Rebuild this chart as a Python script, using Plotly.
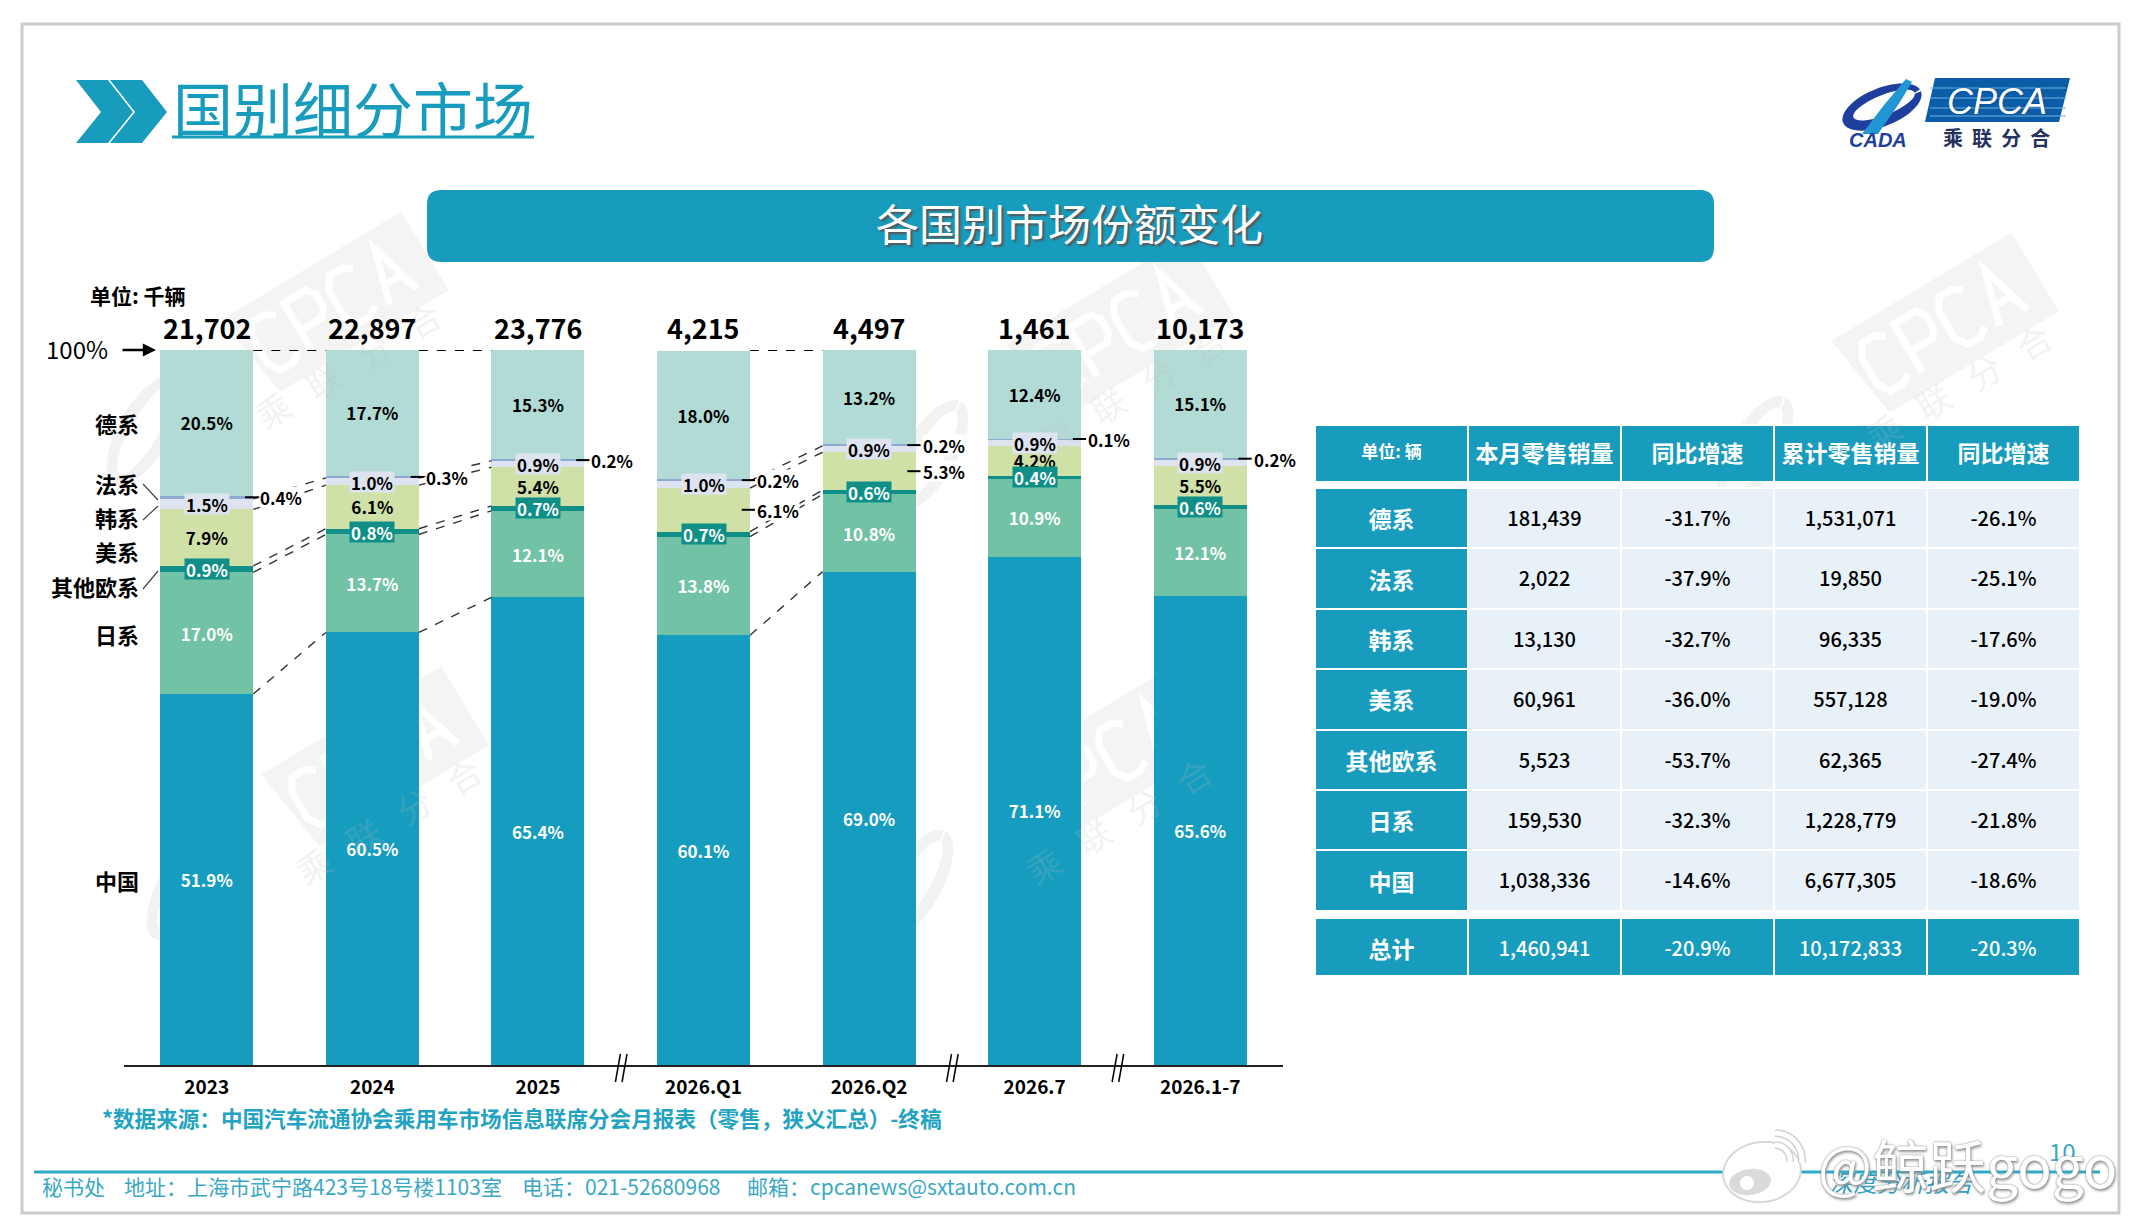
import math
import plotly.graph_objects as go

W, H = 2133, 1224
FONT = "Noto Sans CJK SC"
TEAL = "#189CBE"

# share of the market, percent
periods = ["2023", "2024", "2025", "2026.Q1", "2026.Q2", "2026.7", "2026.1-7"]
totals = ["21,702", "22,897", "23,776", "4,215", "4,497", "1,461", "10,173"]
china = [51.9, 60.5, 65.4, 60.1, 69.0, 71.1, 65.6]
japan = [17.0, 13.7, 12.1, 13.8, 10.8, 10.9, 12.1]
other_eu = [0.9, 0.8, 0.7, 0.7, 0.6, 0.4, 0.6]
usa = [7.9, 6.1, 5.4, 6.1, 5.3, 4.2, 5.5]
korea = [1.5, 1.0, 0.9, 1.0, 0.9, 0.9, 0.9]
france = [0.4, 0.3, 0.2, 0.2, 0.2, 0.1, 0.2]
germany = [20.5, 17.7, 15.3, 18.0, 13.2, 12.4, 15.1]

# table
table_header = ["单位: 辆", "本月零售销量", "同比增速", "累计零售销量", "同比增速"]
table_names = ["德系", "法系", "韩系", "美系", "其他欧系", "日系", "中国"]
month_sales = ["181,439", "2,022", "13,130", "60,961", "5,523", "159,530", "1,038,336"]
month_yoy = ["-31.7%", "-37.9%", "-32.7%", "-36.0%", "-53.7%", "-32.3%", "-14.6%"]
ytd_sales = ["1,531,071", "19,850", "96,335", "557,128", "62,365", "1,228,779", "6,677,305"]
ytd_yoy = ["-26.1%", "-25.1%", "-17.6%", "-19.0%", "-27.4%", "-21.8%", "-18.6%"]
table_total = ["总计", "1,460,941", "-20.9%", "10,172,833", "-20.3%"]

BAR_W = 0.562
series = [
    ("中国", china, "#169CBE", "white"),
    ("日系", japan, "#72C2A5", "white"),
    ("其他欧系", other_eu, "#0F8F87", "white"),
    ("美系", usa, "#CFE1A6", "black"),
    ("韩系", korea, "#DDE4EF", "black"),
    ("法系", france, "#8EA9D2", "black"),
    ("德系", germany, "#B1DBD4", "black"),
]


def px(x):
    return x / W


def py(y):
    return 1 - y / H


def pct(v):
    return f"{v:.1f}%"


def poly(points):
    s = "M" + " L".join(f"{px(x):.5f},{py(y):.5f}" for x, y in points)
    return s + " Z"


def line_path(points):
    return "M" + " L".join(f"{px(x):.5f},{py(y):.5f}" for x, y in points)


def ellipse(cx, cy, rx, ry, rot=0, reverse=False, start=0, end=360):
    a = math.radians(rot)
    pts = []
    for d in range(start, end, 6):
        t = math.radians(-d if reverse else d)
        ex, ey = rx * math.cos(t), ry * math.sin(t)
        pts.append((cx + ex * math.cos(a) - ey * math.sin(a), cy + ex * math.sin(a) + ey * math.cos(a)))
    return pts


fig = go.Figure()
shapes = []
notes = []


def shape_paper(path, fill=None, color=None, width=0, layer="above"):
    shapes.append(dict(type="path", xref="paper", yref="paper", path=path, fillcolor=fill,
                       line=dict(color=color, width=width), layer=layer))


def note(x, y, text, size=18, color="black", weight=400, anchor="center", **kw):
    style = kw.pop("style", "normal")
    shadow = kw.pop("shadow", "none")
    family = kw.pop("family", FONT)
    kw.setdefault("xref", "paper")
    kw.setdefault("yref", "paper")
    kw.setdefault("yanchor", "middle")
    notes.append(dict(x=x, y=y, text=text, showarrow=False, xanchor=anchor,
                      font=dict(family=family, size=size, color=color, weight=weight, style=style, shadow=shadow),
                      **kw))


def note_px(x, y, text, **kw):
    note(px(x), py(y), text, **kw)


# watermarks, they sit under the bars
STROKES = {
    "C": [(1, 0.15), (0.7, 0), (0.25, 0), (0, 0.3), (0, 1.0), (0.25, 1.3), (0.7, 1.3), (1, 1.15)],
    "P": [(0, 1.3), (0, 0), (0.8, 0), (1, 0.2), (1, 0.55), (0.8, 0.75), (0, 0.75)],
    "A": [(0, 1.3), (0.5, 0), (1, 1.3), (0.75, 0.85), (0.25, 0.85)],
}


def watermark(cx, cy):
    a = math.radians(-31)

    def rot(x, y):
        return (cx + x * math.cos(a) - y * math.sin(a), cy + x * math.sin(a) + y * math.cos(a))

    band = [rot(-105, -46), rot(105, -46), rot(105, 46), rot(-92, 46)]
    shape_paper(poly(band), fill="#F4F4F4", layer="below")
    for k, letter in enumerate("CPCA"):
        pts = [rot(-88 + k * 45 + x * 32, -28 + y * 43) for x, y in STROKES[letter]]
        shape_paper(line_path(pts), color="white", width=7, layer="below")
    ring = ellipse(cx - 190, cy + 125, 62, 26, -60) + ellipse(cx - 190, cy + 125, 50, 14, -60, reverse=True)
    shape_paper(poly(ring), fill="#F2F2F2", layer="below")
    for dx, dy, ch in [(-62, 105, "乘"), (-12, 75, "联"), (38, 45, "分"), (88, 15, "合")]:
        note_px(cx + dx, cy + dy, ch, size=34, color="rgba(190,190,190,0.2)", textangle=-31)


for c in [(335, 305), (1120, 330), (1945, 326), (375, 760), (1105, 760)]:
    watermark(*c)

# stacked bars
for name, vals, color, txt in series:
    labels = [pct(v) for v in vals]
    if name in ("其他欧系", "韩系", "法系"):
        labels = None
    if name == "美系":
        labels = [pct(v) if i not in (3, 4) else "" for i, v in enumerate(vals)]
    fig.add_trace(go.Bar(
        x=periods, y=vals, name=name, marker=dict(color=color, line=dict(width=0)),
        text=labels, textposition="inside" if labels else "none", insidetextanchor="middle",
        textangle=0, constraintext="none",
        textfont=dict(family=FONT, size=17, color=txt, weight=700),
    ))

# cumulative tops of each stack
tops = []
running = [0.0] * len(periods)
for name, vals, color, txt in series:
    running = [r + v for r, v in zip(running, vals)]
    tops.append(list(running))
cn_top, jp_top, oe_top, us_top, kr_top, fr_top, _ = tops

# dashed connectors between neighbouring bars
for i in [0, 1, 3]:
    x0, x1 = i + BAR_W / 2, i + 1 - BAR_W / 2
    shapes.append(dict(type="line", xref="x", yref="y", x0=x0, x1=x1, y0=100, y1=100,
                       line=dict(color="black", width=2, dash="dash")))
    for top in (cn_top, jp_top, oe_top, us_top, kr_top):
        shapes.append(dict(type="line", xref="x", yref="y", x0=x0, x1=x1, y0=top[i], y1=top[i + 1],
                           line=dict(color="#333333", width=1.4, dash="dash")))

# labels on thin segments and beside the bars
side = [(i, (kr_top[i] + fr_top[i]) / 2, france[i]) for i in range(len(periods))]
side += [(i, (oe_top[i] + us_top[i]) / 2, usa[i]) for i in (3, 4)]
for i, y, v in side:
    edge = i + BAR_W / 2
    shapes.append(dict(type="line", xref="x", yref="y", x0=edge - 0.05, x1=edge + 0.03, y0=y, y1=y,
                       line=dict(color="black", width=2)))
    note(edge + 0.03, y, pct(v), size=17, weight=700, anchor="left", xref="x", yref="y",
         bgcolor="white", borderpad=0, xshift=1, height=20)
for i in range(len(periods)):
    note(i, (oe_top[i] + jp_top[i]) / 2, pct(other_eu[i]), size=17, color="white", weight=700,
         xref="x", yref="y", bgcolor="#0F8F87", borderpad=1, height=18)
    note(i, (us_top[i] + kr_top[i]) / 2, pct(korea[i]), size=17, weight=700,
         xref="x", yref="y", bgcolor="#DDE4EF", borderpad=1, height=18)
    note(i, 100, totals[i], size=27, weight=700, xref="x", yref="y", yanchor="bottom", yshift=1)

# axis breaks
for x in (2.5, 4.5, 5.5):
    for off in (-0.02, 0.02):
        shapes.append(dict(type="line", xref="x", yref="paper", x0=x + off - 0.012, x1=x + off + 0.018,
                           y0=py(1082), y1=py(1054), line=dict(color="black", width=1.5)))

# row names on the left
names_left = [("德系", 423), ("法系", 483), ("韩系", 517), ("美系", 551), ("其他欧系", 586), ("日系", 634), ("中国", 880)]
for name, y in names_left:
    note_px(141, y, name, size=22, weight=700, anchor="right")
for a, b in [((143, 484), (158, 500)), ((143, 520), (158, 506)), ((143, 589), (158, 571))]:
    shape_paper(line_path([a, b]), color="#444444", width=1.2)

note_px(88, 295, "单位: 千辆", size=21, weight=700, anchor="left")
note_px(44, 348, "100%", size=24, anchor="left")
notes.append(dict(x=px(156), y=py(350), xref="paper", yref="paper", ax=-35, ay=0, text="", showarrow=True,
                  arrowhead=2, arrowsize=1.1, arrowwidth=2.4, arrowcolor="black"))

# heading
for dx in (0, 34):
    shape_paper(poly([(76 + dx, 80), (108 + dx, 80), (133 + dx, 112), (108 + dx, 143), (76 + dx, 143), (101 + dx, 112)]),
                fill=TEAL)
note_px(171, 106, "国别细分市场", size=60, color=TEAL, anchor="left")
shape_paper(line_path([(172, 137), (534, 137)]), color=TEAL, width=3)

# banner
bx0, bx1, by0, by1, r = 427, 1714, 190, 262, 14
shapes.append(dict(type="path", xref="paper", yref="paper", fillcolor=TEAL, line=dict(width=0), path=(
    f"M{px(bx0 + r)},{py(by0)} L{px(bx1 - r)},{py(by0)} Q{px(bx1)},{py(by0)} {px(bx1)},{py(by0 + r)} "
    f"L{px(bx1)},{py(by1 - r)} Q{px(bx1)},{py(by1)} {px(bx1 - r)},{py(by1)} L{px(bx0 + r)},{py(by1)} "
    f"Q{px(bx0)},{py(by1)} {px(bx0)},{py(by1 - r)} L{px(bx0)},{py(by0 + r)} Q{px(bx0)},{py(by0)} {px(bx0 + r)},{py(by0)} Z")))
note_px(1069, 222, "各国别市场份额变化", size=43, color="white", shadow="2px 2px 2px #555555")

# logo top right
shape_paper(poly([(1935, 78), (2070, 78), (2059, 122), (1925, 122)]), fill="#0B5DA8")
for y in (88, 98, 108, 116):
    shape_paper(line_path([(1930, y), (2066, y)]), color="#6FB4E3", width=1)
note_px(1997, 101, "CPCA", size=36, color="white", weight=500, style="italic", shadow="0 0 2px #0A3C8C",
        family="Liberation Sans")
note_px(1996, 137, "乘  联  分  合", size=20, color="#24325E", weight=700)
ring = ellipse(1882, 107, 42, 19, -22) + ellipse(1884, 105, 33, 10, -22, reverse=True)
shape_paper(poly(ring), fill="#1F3F9E")
shape_paper(poly([(1906, 79), (1912, 82), (1900, 102), (1878, 134), (1862, 134), (1884, 105)]), fill="#2196D3")
note_px(1878, 140, "CADA", size=20, color="#1F3F9E", weight=700, style="italic", family="Liberation Sans")

# source and footer
note_px(100, 1117, "*数据来源：中国汽车流通协会乘用车市场信息联席分会月报表（零售，狭义汇总）-终稿", size=21.6,
        color="#22A3C2", weight=700, anchor="left")
shape_paper(line_path([(34, 1172), (2100, 1172)]), color="#2EA9C6", width=3)
for x, t in [(40, "秘书处"), (122, "地址：上海市武宁路423号18号楼1103室"), (520, "电话：021-52680968"),
             (745, "邮箱：cpcanews@sxtauto.com.cn")]:
    note_px(x, 1186, t, size=21, color="#3AA8C4", anchor="left")
note_px(1902, 1181, "深度分析报告", size=24, color="#2E9FBE", style="italic")
note_px(2062, 1150, "10", size=24, color="#3AA8C4")

# weibo mark over the footer
shape_paper(poly(ellipse(1762, 1172, 39, 30, -8)), fill="white", color="#D8D8D8", width=2)
shape_paper(poly(ellipse(1750, 1182, 21, 13, -8)), fill="#DADADA")
shape_paper(poly(ellipse(1747, 1183, 7, 7)), fill="white")
for rr in (15, 27):
    pts = ellipse(1775, 1160, rr, rr, 0, start=270, end=372)
    shape_paper(line_path(pts), color="#D0D0D0", width=8)
    shape_paper(line_path(pts), color="white", width=5)
note_px(1968, 1163, "@鲸跃gogo", size=57, color="white", shadow="0 0 2px #777777, 1px 2px 3px #999999",
        family="Noto Sans CJK SC")

# outer frame
shapes.append(dict(type="rect", xref="paper", yref="paper", x0=px(22), x1=px(2119), y0=py(1213), y1=py(24),
                   line=dict(color="#CCCCCC", width=3), fillcolor="rgba(0,0,0,0)", layer="below"))

# table: fills in one layer and text in a clear layer on top, a table can't centre text in a tall row
# an empty header still takes about 16px, hence the domains start that much higher
t_x = [px(1315), px(2081)]
CLEAR = "rgba(0,0,0,0)"
body_fill = [TEAL, "#E8F0F8", "#E8F0F8", "#E8F0F8", "#E8F0F8"]
no_header = dict(height=1, fill_color=CLEAR, line=dict(color=CLEAR, width=0))
body_cols = [table_names, month_sales, month_yoy, ytd_sales, ytd_yoy]
total_cols = [[v] for v in table_total]
num_font = dict(family=FONT, size=[23, 20, 20, 20, 20], weight=[700, 500, 500, 500, 500],
                color=["white", "black", "black", "black", "black"])
total_font = dict(family=FONT, size=[23, 20, 20, 20, 20], weight=[700, 500, 500, 500, 500], color="white")

fig.add_trace(go.Table(
    domain=dict(x=t_x, y=[py(482), py(425)]),
    header=dict(values=[""] * 5, height=57, fill_color=TEAL, line=dict(color="white", width=2)),
))
fig.add_trace(go.Table(
    domain=dict(x=t_x, y=[py(494), py(437)]),
    header=dict(values=table_header, height=57, fill_color=CLEAR, align="center",
                line=dict(color=CLEAR, width=0),
                font=dict(family=FONT, size=[17, 23, 23, 23, 23], color="white", weight=700)),
))
fig.add_trace(go.Table(
    domain=dict(x=t_x, y=[py(913), py(472)]), header=no_header,
    cells=dict(values=[[""] * 7] * 5, height=60.4, fill_color=body_fill, line=dict(color="white", width=2)),
))
fig.add_trace(go.Table(
    domain=dict(x=t_x, y=[py(930), py(487)]), header=no_header,
    cells=dict(values=body_cols, height=60.4, align="center", fill_color=CLEAR, line=dict(color=CLEAR, width=0),
               font=num_font),
))
fig.add_trace(go.Table(
    domain=dict(x=t_x, y=[py(977), py(902)]), header=no_header,
    cells=dict(values=[[""]] * 5, height=58, fill_color=TEAL, line=dict(color="white", width=2)),
))
fig.add_trace(go.Table(
    domain=dict(x=t_x, y=[py(992), py(917)]), header=no_header,
    cells=dict(values=total_cols, height=58, align="center", fill_color=CLEAR, line=dict(color=CLEAR, width=0),
               font=total_font),
))

fig.update_layout(
    width=W, height=H, margin=dict(l=0, r=0, t=0, b=0), barmode="stack", bargap=1 - BAR_W,
    showlegend=False, paper_bgcolor="white", plot_bgcolor="rgba(0,0,0,0)",
    shapes=shapes, annotations=notes,
    xaxis=dict(domain=[px(124), px(1283)], type="category", range=[-0.5, 6.5], showline=True,
               linecolor="#222222", linewidth=2, ticks="", showgrid=False, zeroline=False, fixedrange=True,
               ticklabelstandoff=4, tickfont=dict(family=FONT, size=19, color="black", weight=700)),
    yaxis=dict(domain=[py(1065), py(350)], range=[0, 100], visible=False, fixedrange=True),
)

fig.write_html("out.html", config={"displayModeBar": False},
               post_script="document.body.style.margin='0';document.body.style.overflow='hidden';")
